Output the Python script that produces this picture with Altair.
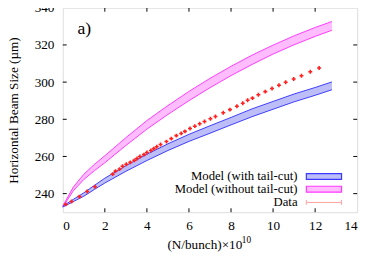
import altair as alt
import pandas as pd

# ---- data ----
band_x = [0, 0.5, 1, 1.5, 2, 3, 4, 5, 6, 7, 8, 9, 10, 11, 12, 12.8]
blue_lo = [232.8, 235.7, 238.6, 242.2, 245.7, 252.0, 257.8, 263.2, 268.1, 272.5, 277.0, 281.4, 285.4, 289.4, 292.9, 295.9]
blue_hi = [233.2, 236.9, 240.4, 244.4, 248.3, 255.0, 261.2, 266.8, 271.9, 276.5, 281.0, 285.6, 289.6, 293.6, 297.1, 300.1]
mag_lo = [232.7, 241.5, 247.6, 252.3, 256.6, 265.9, 274.7, 282.6, 290.0, 297.0, 303.5, 309.5, 315.1, 320.1, 324.6, 327.9]
mag_hi = [233.3, 243.5, 250.4, 255.7, 260.4, 270.1, 279.3, 287.4, 295.0, 302.0, 308.5, 314.5, 319.9, 324.9, 329.4, 332.6]

data_x = [0.14, 0.42, 0.79, 1.16, 1.53, 2.37, 2.51, 2.70, 2.84, 3.02, 3.21, 3.40, 3.53, 3.67, 3.86,
          4.00, 4.19, 4.33, 4.47, 4.65, 4.93, 5.16, 5.40, 5.63, 5.81, 6.05, 6.28, 6.51, 6.74, 7.02,
          7.26, 7.63, 7.95, 8.28, 8.56, 8.79, 9.02, 9.30, 9.63, 9.95, 10.28, 10.60, 10.98, 11.35,
          11.77, 12.19]
data_y = [234.2, 235.8, 238.4, 241.1, 243.7, 250.5, 252.1, 253.2, 254.7, 255.8, 256.8, 257.9, 258.9,
          260.0, 261.0, 262.1, 263.2, 264.2, 265.2, 266.4, 268.0, 269.6, 271.2, 272.4, 273.5, 275.0,
          276.3, 277.6, 278.8, 280.3, 281.5, 283.5, 285.2, 287.0, 288.6, 290.2, 291.4, 293.2, 294.9,
          296.6, 298.3, 299.9, 301.7, 303.4, 305.6, 307.6]

x_ticks = [0, 2, 4, 6, 8, 10, 12, 14]
y_ticks = [240, 260, 280, 300, 320, 340]
legend_labels = ["Model (with tail-cut)", "Model (without tail-cut)", "Data"]

W, H = 301, 209
FONT = "Liberation Serif"

bands = pd.DataFrame({"x": band_x, "blo": blue_lo, "bhi": blue_hi, "mlo": mag_lo, "mhi": mag_hi})
pts = pd.DataFrame({"x": data_x, "y": data_y})
one = pd.DataFrame({"k": [0]})

xscale = alt.Scale(domain=[0, 14], nice=False, zero=False)
yscale = alt.Scale(domain=[230, 340], nice=False, zero=False)
xaxis = alt.Axis(values=x_ticks, tickSize=0, grid=False, domain=False, labelFont=FONT,
                 labelFontSize=13.5, labelColor="black", labelPadding=7, title=None)
yaxis = alt.Axis(values=y_ticks, tickSize=0, grid=False, domain=False, labelFont=FONT,
                 labelFontSize=13.5, labelColor="black", labelPadding=9,
                 title="Horizontal Beam Size (µm)", titleFont=FONT, titleFontSize=13.5,
                 titleFontWeight="normal", titleColor="black", titlePadding=14)

X = lambda f: alt.X(f, type="quantitative", scale=xscale, axis=xaxis)
Y = lambda f: alt.Y(f, type="quantitative", scale=yscale, axis=yaxis)

base = alt.Chart(bands)
blue_area = base.mark_area(color="#bdbdf7", opacity=1).encode(x=X("x"), y=Y("blo"), y2="bhi")
blue_l1 = base.mark_line(color="#3a3aff", strokeWidth=1).encode(x=X("x"), y=Y("blo"))
blue_l2 = base.mark_line(color="#3a3aff", strokeWidth=1).encode(x=X("x"), y=Y("bhi"))
mag_area = base.mark_area(color="#ffbdff", opacity=1).encode(x=X("x"), y=Y("mlo"), y2="mhi")
mag_l1 = base.mark_line(color="#ff3aff", strokeWidth=1).encode(x=X("x"), y=Y("mlo"))
mag_l2 = base.mark_line(color="#ff3aff", strokeWidth=1).encode(x=X("x"), y=Y("mhi"))

points = alt.Chart(pts).mark_point(shape="cross", filled=True, size=16, color="#ff2020",
                                   opacity=1).encode(x=X("x"), y=Y("y"))

# inward ticks (gnuplot style) on all four sides
xt = pd.DataFrame({"v": x_ticks[1:-1]})
yt = pd.DataFrame({"v": y_ticks[:-1]})
tick_style = dict(color="black", strokeWidth=1)
tb = alt.Chart(xt).mark_rule(**tick_style).encode(x=X("v"), y=alt.value(H), y2=alt.value(H - 4))
tt = alt.Chart(xt).mark_rule(**tick_style).encode(x=X("v"), y=alt.value(0), y2=alt.value(4))
tl = alt.Chart(yt).mark_rule(**tick_style).encode(y=Y("v"), x=alt.value(0), x2=alt.value(4))
tr = alt.Chart(yt).mark_rule(**tick_style).encode(y=Y("v"), x=alt.value(W), x2=alt.value(W - 4))


def txt(text, x, y, size=13, align="right"):
    return alt.Chart(one).mark_text(text=text, font=FONT, fontSize=size, align=align,
                                    baseline="middle", color="black").encode(
        x=alt.value(x), y=alt.value(y))


# legend (drawn inside the plot, gnuplot style)
row_y = [172.5, 185.5, 199]
leg_texts = [txt(lbl, 240, ry) for lbl, ry in zip(legend_labels, row_y)]
box1 = alt.Chart(one).mark_rect(fill="#bdbdf7", stroke="#3a3aff", strokeWidth=1.2).encode(
    x=alt.value(249), x2=alt.value(285), y=alt.value(169.5), y2=alt.value(175.5))
box2 = alt.Chart(one).mark_rect(fill="#ffbdff", stroke="#ff3aff", strokeWidth=1.2).encode(
    x=alt.value(249), x2=alt.value(285), y=alt.value(182.5), y2=alt.value(188.5))
eb = alt.Chart(one).mark_rule(color="#ffa0a0", strokeWidth=1).encode(
    x=alt.value(249), x2=alt.value(285), y=alt.value(199))
cap1 = alt.Chart(one).mark_rule(color="#ffa0a0", strokeWidth=1).encode(
    x=alt.value(249), y=alt.value(196.5), y2=alt.value(201.5))
cap2 = alt.Chart(one).mark_rule(color="#ffa0a0", strokeWidth=1).encode(
    x=alt.value(285), y=alt.value(196.5), y2=alt.value(201.5))

label_a = txt("a)", 15, 22, size=18, align="left")
xt_main = txt("(N/bunch)×10", 107, 243, size=13.5, align="left")
xt_sup = txt("10", 183, 237, size=9.5, align="left")

chart = alt.layer(
    mag_area, mag_l1, mag_l2, blue_area, blue_l1, blue_l2, points,
    tb, tt, tl, tr,
    *leg_texts, box1, box2, eb, cap1, cap2, label_a, xt_main, xt_sup,
).properties(
    width=W, height=H,
    autosize=alt.AutoSizeParams(type="none"),
    padding={"left": 56, "top": -3, "right": 9, "bottom": 42},
).configure_axis(labelFont=FONT, titleFont=FONT).configure_text(font=FONT).configure_view(
    stroke="black", strokeWidth=1).configure(background="white")

chart.save("out.html", embed_options={"renderer": "svg", "actions": False})
